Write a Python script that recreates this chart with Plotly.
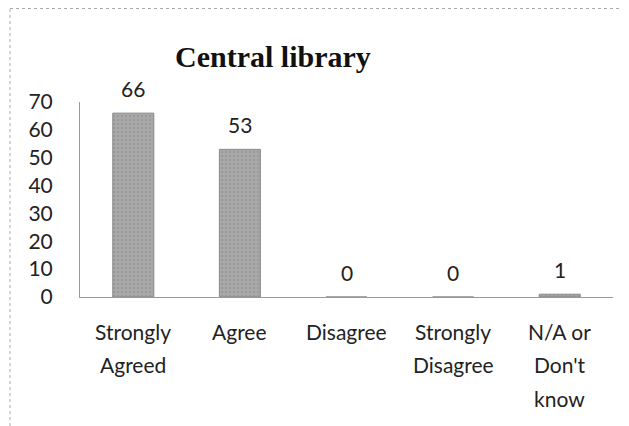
import plotly.graph_objects as go

# survey responses
categories = ["Strongly<br>Agreed", "Agree", "Disagree", "Strongly<br>Disagree", "N/A or<br>Don't<br>know"]
counts = [66, 53, 0, 0, 1]
y_ticks = [0, 10, 20, 30, 40, 50, 60, 70]

# page body adds an 8px margin, so the figure is drawn 8px smaller
W, H = 621, 418
L, R, T, B = 72, 16, 94, 129
pw, ph = W - L - R, H - T - B
FONT = "Lato"

fig = go.Figure()
fig.add_trace(go.Bar(
    x=categories, y=counts,
    marker=dict(color="#a9a9a9", line=dict(color="#8a8a8a", width=1),
                pattern=dict(shape=".", fgcolor="#8a8a8a", size=4, solidity=0.3)),
    width=0.385,
))

# value labels sit well above the bar tops
for c, v in zip(categories, counts):
    fig.add_annotation(x=c, y=v, text=str(v), showarrow=False, yshift=25,
                       font=dict(family=FONT, size=21, color="#222"))

# category labels with the wide line spacing of the original
for c in categories:
    for i, line in enumerate(c.split("<br>")):
        fig.add_annotation(x=c, y=0, text=line, showarrow=False, yshift=-34 - 33.5 * i,
                           yanchor="middle", font=dict(family=FONT, size=21, color="#222"))

fig.add_annotation(text="<b>Central library</b>", xref="paper", yref="paper",
                   x=(265 - L) / pw, y=(H - B - 49) / ph, xanchor="center", yanchor="middle",
                   showarrow=False, font=dict(family="Liberation Serif", size=30, color="#111"))

# chart border (left and top edges)
fig.add_shape(type="line", xref="paper", yref="paper", x0=(2 - L) / pw, x1=(2 - L) / pw,
              y0=-1, y1=(H - B) / ph, line=dict(color="#aaa", width=1, dash="dot"))
fig.add_shape(type="line", xref="paper", yref="paper", x0=(2 - L) / pw, x1=1.1,
              y0=(H - B - 0.5) / ph, y1=(H - B - 0.5) / ph, line=dict(color="#aaa", width=1, dash="dot"))

fig.update_layout(
    width=W, height=H,
    margin=dict(l=L, r=R, t=T, b=B),
    paper_bgcolor="white", plot_bgcolor="white",
    showlegend=False,
    font=dict(family=FONT, size=21, color="#222"),
)
fig.update_yaxes(range=[0, 70], tickvals=y_ticks, showgrid=False, zeroline=False,
                 showline=True, linecolor="#999", linewidth=1, ticks="", ticklabelstandoff=22,
                 tickfont=dict(size=21))
fig.update_xaxes(showgrid=False, showline=True, linecolor="#999", linewidth=1, ticks="",
                 showticklabels=False)

fig.write_html("out.html")
